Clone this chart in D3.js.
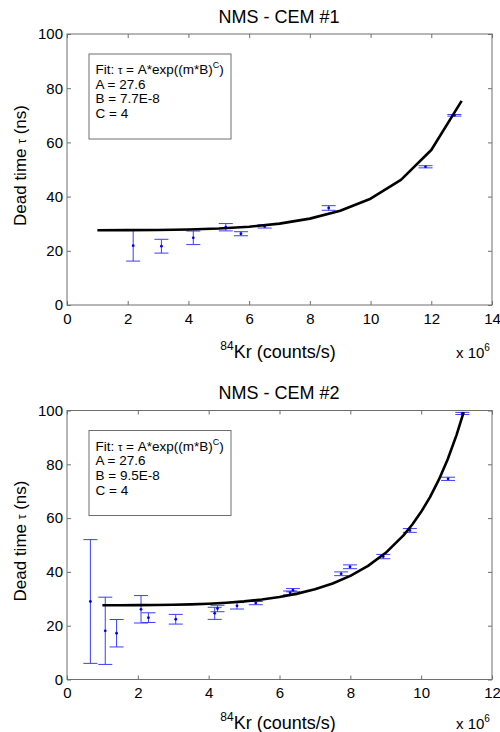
<!DOCTYPE html>
<html><head><meta charset="utf-8">
<script src="https://cdn.jsdelivr.net/npm/d3@7"></script>
<style>
body{margin:0;background:#fff}
svg{display:block}
text{font-family:"Liberation Sans",Arial,Helvetica,sans-serif;fill:#000}
</style>
</head><body>
<svg id="c" width="500" height="732"></svg>
<script>
// ---------- DATA ----------
// CEM #1 measurements (x in 1e6 counts/s, dead time in ns)
const cem1X   = [2.18, 3.11, 4.16, 5.23, 5.73, 6.51, 8.62, 11.81, 12.76];
const cem1Y   = [21.9, 21.7, 24.8, 28.7, 26.3, 29.0, 35.8, 51.0, 70.0];
const cem1Err = [5.7, 2.55, 2.5, 1.35, 0.75, 0.6, 0.85, 0.4, 0.3];
const cem1FitX = [1, 2, 3, 4, 5, 6, 7, 8, 9, 10, 11, 12, 13];
const cem1FitY = [27.60, 27.62, 27.68, 27.85, 28.21, 28.89, 30.03, 31.87, 34.76, 39.23, 46.18, 57.21, 75.33];

// CEM #2 measurements
const cem2X   = [0.66, 1.08, 1.40, 2.09, 2.30, 3.07, 4.17, 4.25, 4.80, 5.33, 6.30, 6.38, 7.74, 7.99, 8.93, 9.68, 10.76, 11.16];
const cem2Y   = [29.0, 18.1, 17.2, 26.1, 23.0, 22.4, 24.6, 26.4, 27.4, 28.4, 32.2, 33.2, 39.3, 41.9, 45.7, 55.4, 74.6, 98.9];
const cem2Err = [23.0, 12.5, 5.1, 5.1, 1.8, 1.8, 2.25, 1.2, 1.2, 0.6, 0.7, 0.6, 0.7, 0.7, 0.8, 0.7, 0.6, 0.4];
const cem2FitX = [1, 1.5, 2, 2.5, 3, 3.5, 4, 4.5, 5, 5.5, 6, 6.5, 7, 7.5, 8, 8.5, 9, 9.5, 9.75, 10, 10.25, 10.5, 10.75, 11, 11.2];
const cem2FitY = [27.60, 27.61, 27.64, 27.69, 27.78, 27.94, 28.18, 28.54, 29.04, 29.74, 30.67, 31.92, 33.56, 35.71, 38.53, 42.23, 47.10, 53.59, 57.62, 62.32, 67.82, 74.28, 81.90, 90.95, 99.43];

// axis ticks & labels
const cem1XTicks = [0, 2, 4, 6, 8, 10, 12, 14];
const cem2XTicks = [0, 2, 4, 6, 8, 10, 12];
const yTicks = [0, 20, 40, 60, 80, 100];
const titles = ["NMS - CEM #1", "NMS - CEM #2"];
const fitA = ["27.6", "27.6"];
const fitB = ["7.7E-8", "9.5E-8"];
const fitC = ["4", "4"];

// ---------- LAYOUT ----------
const svg = d3.select("#c");
const panels = [
  {title: titles[0], xs: cem1X, ys: cem1Y, es: cem1Err, fx: cem1FitX, fy: cem1FitY, xTicks: cem1XTicks,
   A: fitA[0], B: fitB[0], C: fitC[0], left: 67, right: 492, top: 34, bottom: 305, xLabBase: 357.5},
  {title: titles[1], xs: cem2X, ys: cem2Y, es: cem2Err, fx: cem2FitX, fy: cem2FitY, xTicks: cem2XTicks,
   A: fitA[1], B: fitB[1], C: fitC[1], left: 67, right: 492, top: 410.5, bottom: 679.5, xLabBase: 728.5}
];

const axisCol = "#6e6e6e";
const errCol = "#3d3dff";

panels.forEach(p => {
  const xMax = p.xTicks[p.xTicks.length - 1];
  const x = d3.scaleLinear().domain([0, xMax]).range([p.left, p.right]);
  const y = d3.scaleLinear().domain([0, 100]).range([p.bottom, p.top]);
  const g = svg.append("g");

  // box
  g.append("rect").attr("x", p.left).attr("y", p.top)
    .attr("width", p.right - p.left).attr("height", p.bottom - p.top)
    .attr("fill", "none").attr("stroke", axisCol).attr("stroke-width", 1);

  const styleAxis = (sel, labels) => {
    sel.select(".domain").remove();
    sel.selectAll(".tick line").attr("stroke", axisCol);
    if (!labels) sel.selectAll(".tick text").remove();
    else sel.selectAll(".tick text").attr("font-size", 15).attr("fill", "#111")
      .style("font-family", '"Liberation Sans",Arial,sans-serif');
  };

  g.append("g").attr("transform", `translate(0,${p.bottom})`)
    .call(d3.axisBottom(x).tickValues(p.xTicks).tickFormat(d3.format("d")).tickSizeInner(-4).tickSizeOuter(0).tickPadding(8))
    .call(s => styleAxis(s, true));
  g.append("g").attr("transform", `translate(0,${p.top})`)
    .call(d3.axisTop(x).tickValues(p.xTicks).tickSizeInner(-4).tickSizeOuter(0))
    .call(s => styleAxis(s, false));
  g.append("g").attr("transform", `translate(${p.left},0)`)
    .call(d3.axisLeft(y).tickValues(yTicks).tickFormat(d3.format("d")).tickSizeInner(-4).tickSizeOuter(0).tickPadding(4))
    .call(s => styleAxis(s, true));
  g.append("g").attr("transform", `translate(${p.right},0)`)
    .call(d3.axisRight(y).tickValues(yTicks).tickSizeInner(-4).tickSizeOuter(0))
    .call(s => styleAxis(s, false));

  // title
  g.append("text").attr("x", 279).attr("y", p.top - 11.5).attr("text-anchor", "middle")
    .attr("font-size", 18).text(p.title);

  // x label
  const xl = g.append("text").attr("x", 278).attr("y", p.xLabBase).attr("text-anchor", "middle").attr("font-size", 18);
  xl.append("tspan").attr("font-size", 12).attr("dy", -8).text("84");
  xl.append("tspan").attr("dy", 8).text("Kr (counts/s)");

  // x 10^6
  const xm = g.append("text").attr("x", 456).attr("y", p.xLabBase).attr("font-size", 15);
  xm.append("tspan").text("x 10");
  xm.append("tspan").attr("font-size", 10).attr("dy", -7).text("6");

  // y label
  const cy = (p.top + p.bottom) / 2 - 4;
  const yl = g.append("text").attr("transform", `translate(26,${cy}) rotate(-90)`)
    .attr("text-anchor", "middle").attr("font-size", 17);
  yl.append("tspan").text("Dead time ");
  yl.append("tspan").attr("font-size", 12).text("τ");
  yl.append("tspan").text(" (ns)");

  // error bars
  const idx = d3.range(p.xs.length);
  const eb = g.append("g").attr("stroke", errCol).attr("stroke-width", 1).attr("fill", "none");
  idx.forEach(i => {
    const cx = x(p.xs[i]), yt = y(p.ys[i] + p.es[i]), yb = y(p.ys[i] - p.es[i]);
    eb.append("line").attr("x1", cx).attr("x2", cx).attr("y1", yt).attr("y2", yb);
    eb.append("line").attr("x1", cx - 7).attr("x2", cx + 7).attr("y1", yt).attr("y2", yt);
    eb.append("line").attr("x1", cx - 7).attr("x2", cx + 7).attr("y1", yb).attr("y2", yb);
  });
  g.append("g").selectAll("circle").data(idx).join("circle")
    .attr("cx", i => x(p.xs[i])).attr("cy", i => y(p.ys[i])).attr("r", 1.4).attr("fill", "#0000ff");

  // fit curve
  const line = d3.line().x(i => x(p.fx[i])).y(i => y(p.fy[i]));
  g.append("path").datum(d3.range(p.fx.length)).attr("d", line)
    .attr("fill", "none").attr("stroke", "#000").attr("stroke-width", 2.6)
    .attr("stroke-linejoin", "round");

  // legend box
  const bx = 89, by = p.top + 20;
  g.append("rect").attr("x", bx).attr("y", by).attr("width", 142).attr("height", 85)
    .attr("fill", "#fff").attr("stroke", axisCol).attr("stroke-width", 1);
  const lt = g.append("g").attr("font-size", 13.5);
  const l1 = lt.append("text").attr("x", bx + 6.5).attr("y", by + 20);
  l1.append("tspan").text("Fit: ");
  l1.append("tspan").attr("font-size", 11).text("τ");
  l1.append("tspan").text(" = A*exp((m*B)");
  l1.append("tspan").attr("font-size", 9).attr("dy", -6).text("C");
  l1.append("tspan").attr("dy", 6).text(")");
  lt.append("text").attr("x", bx + 6.5).attr("y", by + 34.5).text("A = " + p.A);
  lt.append("text").attr("x", bx + 6.5).attr("y", by + 49).text("B = " + p.B);
  lt.append("text").attr("x", bx + 6.5).attr("y", by + 64).text("C = " + p.C);
});
</script>
</body></html>
